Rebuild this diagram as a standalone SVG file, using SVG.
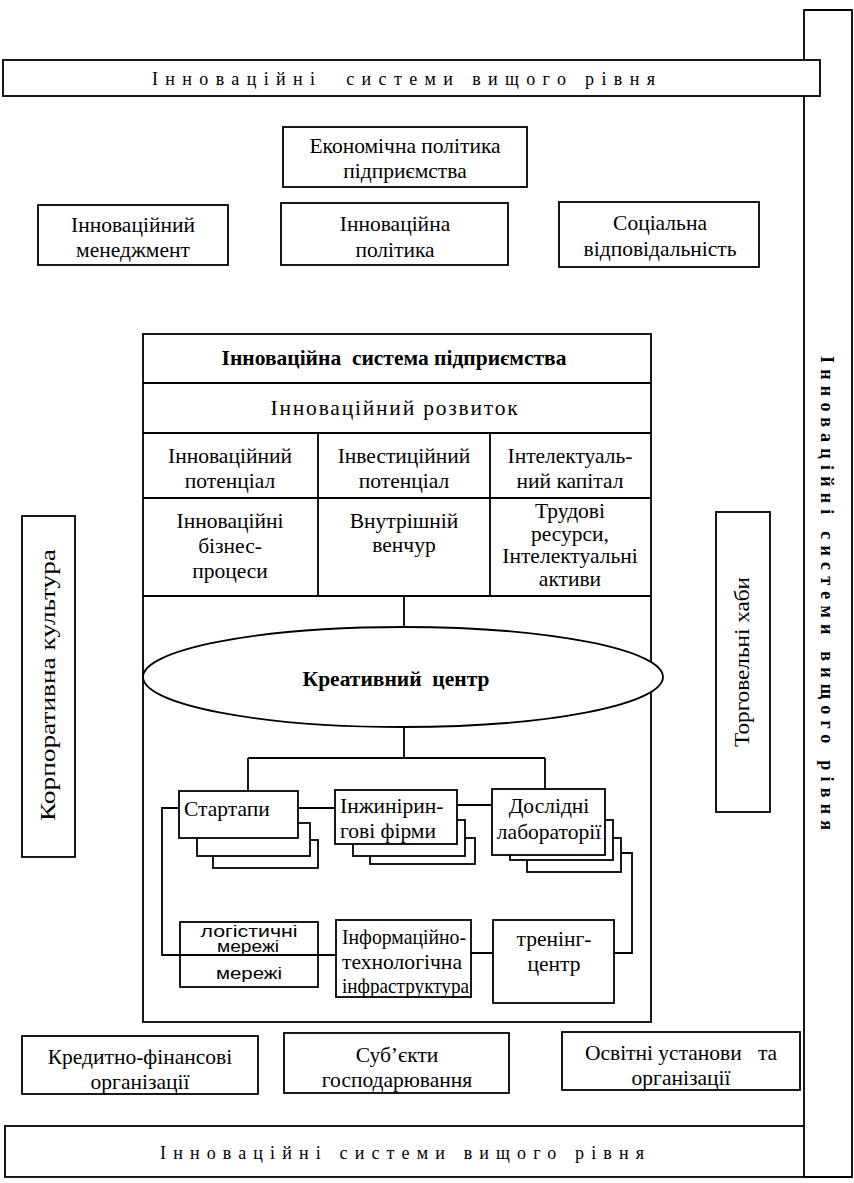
<svg xmlns="http://www.w3.org/2000/svg" width="854" height="1183" viewBox="0 0 854 1183">
<style>
.b{fill:#fff;stroke:#000;stroke-width:1.8}
.n{fill:none;stroke:#000;stroke-width:1.8}
.t{font-family:"Liberation Serif","Times New Roman",serif;font-size:21.5px;fill:#000;text-anchor:middle;white-space:pre}
.l{text-anchor:start}
.bd{font-weight:bold}
.sp{font-family:"Liberation Serif","Times New Roman",serif;font-size:18px;fill:#000;white-space:pre}
.ss{font-family:"Liberation Sans",Arial,sans-serif;font-size:16px;fill:#000;text-anchor:middle}
</style>
<rect width="854" height="1183" fill="#fff"/>
<g id="outer-right">
<path class="n" d="M804,1126 V10 H852 V1177 H804"/>
<text class="sp" font-size="16.5" font-weight="bold" transform="translate(821,356) rotate(90)" textLength="474" lengthAdjust="spacing">Інноваційні системи вищого рівня</text>
</g>
<g id="top-banner">
<rect class="b" x="3" y="60" width="817" height="36"/>
<text class="sp" x="152" y="85" textLength="503" lengthAdjust="spacing">Інноваційні  системи вищого рівня</text>
</g>
<g id="bottom-banner">
<rect class="b" x="5" y="1126" width="799" height="51"/>
<text class="sp" x="160" y="1159" textLength="484" lengthAdjust="spacing">Інноваційні системи вищого рівня</text>
</g>
<g id="econ-policy">
<rect class="b" x="283" y="127" width="244" height="60"/>
<text class="t" x="405" y="153" font-size="22">Економічна політика</text>
<text class="t" x="405" y="178" font-size="22">підприємства</text>
</g>
<g id="innov-mgmt">
<rect class="b" x="38" y="205" width="190" height="60"/>
<text class="t" x="133" y="232">Інноваційний</text>
<text class="t" x="133" y="257">менеджмент</text>
</g>
<g id="innov-policy">
<rect class="b" x="281" y="203" width="227" height="62"/>
<text class="t" x="395" y="231">Інноваційна</text>
<text class="t" x="395" y="257">політика</text>
</g>
<g id="social">
<rect class="b" x="559" y="202" width="200" height="65"/>
<text class="t" x="660" y="230">Соціальна</text>
<text class="t" x="660" y="256">відповідальність</text>
</g>
<g id="corp-culture">
<rect class="b" x="22" y="516" width="53" height="341"/>
<text class="t" font-size="19" transform="translate(55,685) rotate(-90)" textLength="272" lengthAdjust="spacingAndGlyphs">Корпоративна культура</text>
</g>
<g id="trade-hubs">
<rect class="b" x="716" y="512" width="54" height="300"/>
<text class="t" font-size="19" transform="translate(749,662) rotate(-90)" textLength="170" lengthAdjust="spacingAndGlyphs">Торговельні хаби</text>
</g>
<g id="enterprise-system">
<rect class="b" x="143" y="334" width="508" height="688"/>
<path class="n" d="M143,383 H651 M143,433 H651 M143,498 H651 M143,596 H651 M318,433 V596 M490,433 V596"/>
<text class="t bd" x="394" y="365" font-size="22">Інноваційна  система підприємства</text>
<text class="t" x="395" y="415" font-size="22" letter-spacing="1.8">Інноваційний розвиток</text>
<text class="t" x="230" y="463">Інноваційний</text>
<text class="t" x="230" y="488">потенціал</text>
<text class="t" x="404" y="463">Інвестиційний</text>
<text class="t" x="404" y="488">потенціал</text>
<text class="t" x="570" y="463">Інтелектуаль-</text>
<text class="t" x="570" y="488">ний капітал</text>
<text class="t" x="230" y="528">Інноваційні</text>
<text class="t" x="230" y="553">бізнес-</text>
<text class="t" x="230" y="578">процеси</text>
<text class="t" x="404" y="528">Внутрішній</text>
<text class="t" x="404" y="552">венчур</text>
<text class="t" x="570" y="518">Трудові</text>
<text class="t" x="570" y="541">ресурси,</text>
<text class="t" x="570" y="563">Інтелектуальні</text>
<text class="t" x="570" y="586">активи</text>
</g>
<g id="connectors">
<path class="n" d="M404,596 V628 M404,727 V758 M248,758 H545 M248,758 V791 M545,758 V789"/>
<path class="n" d="M298,808 H335 M457,805 H492"/>
<path class="n" d="M179,808 H162 V955 H336"/>
<path class="n" d="M471,953 H493 M614,953 H632 V853 H621"/>
</g>
<g id="creative-centre">
<ellipse class="b" cx="403" cy="677" rx="260" ry="50" stroke-width="2"/>
<text class="t bd" x="396" y="686" font-size="23">Креативний  центр</text>
</g>
<g id="startups">
<rect class="b" x="213" y="840" width="105" height="28"/>
<rect class="b" x="197" y="823" width="113" height="33"/>
<rect class="b" x="179" y="791" width="119" height="47"/>
<text class="t l" x="184" y="816" font-size="23">Стартапи</text>
</g>
<g id="engineering">
<rect class="b" x="370" y="838" width="105" height="26"/>
<rect class="b" x="353" y="820" width="112" height="36"/>
<rect class="b" x="335" y="790" width="122" height="54"/>
<text class="t l" x="340" y="813" font-size="22.5">Інжинірин-</text>
<text class="t l" x="340" y="838" font-size="22.5">гові фірми</text>
</g>
<g id="labs">
<rect class="b" x="527" y="838" width="94" height="34"/>
<rect class="b" x="510" y="820" width="103" height="40"/>
<rect class="b" x="492" y="789" width="113" height="66"/>
<text class="t" x="549" y="813" font-size="22">Дослідні</text>
<text class="t" x="549" y="839" font-size="22">лабораторії</text>
</g>
<g id="logistics">
<rect class="n" x="180" y="922" width="138" height="65"/>
<text class="ss" x="249" y="937" textLength="97" lengthAdjust="spacingAndGlyphs">логістичні</text>
<text class="ss" x="248" y="952" textLength="62" lengthAdjust="spacingAndGlyphs">мережі</text>
<text class="ss" x="249" y="979" textLength="66" lengthAdjust="spacingAndGlyphs">мережі</text>
</g>
<g id="it-infra">
<rect class="b" x="336" y="920" width="135" height="77"/>
<text class="t l" x="342" y="944" font-size="20" textLength="124" lengthAdjust="spacingAndGlyphs">Інформаційно-</text>
<text class="t l" x="342" y="969" font-size="20" textLength="120" lengthAdjust="spacingAndGlyphs">технологічна</text>
<text class="t l" x="342" y="993" font-size="20" textLength="127" lengthAdjust="spacingAndGlyphs">інфраструктура</text>
</g>
<g id="training">
<rect class="b" x="493" y="920" width="121" height="83"/>
<text class="t" x="554" y="946" font-size="19.5">тренінг-</text>
<text class="t" x="554" y="971" font-size="19.5">центр</text>
</g>
<g id="credit">
<rect class="b" x="22" y="1036" width="236" height="58"/>
<text class="t" x="140" y="1064">Кредитно-фінансові</text>
<text class="t" x="140" y="1089">організації</text>
</g>
<g id="business">
<rect class="b" x="284" y="1033" width="225" height="60"/>
<text class="t" x="397" y="1062">Суб’єкти</text>
<text class="t" x="397" y="1087">господарювання</text>
</g>
<g id="education">
<rect class="b" x="562" y="1032" width="238" height="58"/>
<text class="t" x="681" y="1060" font-size="22">Освітні установи   та</text>
<text class="t" x="681" y="1085" font-size="22">організації</text>
</g>
</svg>
